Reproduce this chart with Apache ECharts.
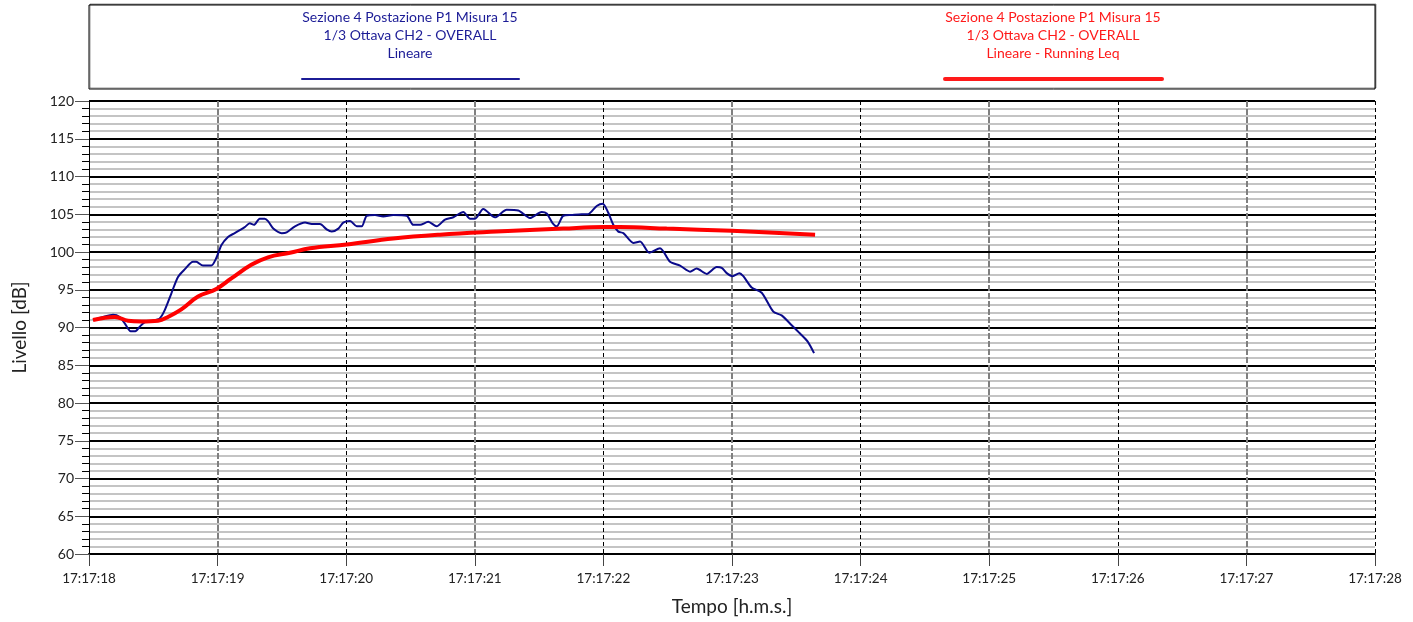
<!DOCTYPE html>
<html>
<head>
<meta charset="utf-8">
<script src="https://cdn.jsdelivr.net/npm/echarts@6/dist/echarts.min.js"></script>
<style>html,body{margin:0;padding:0;background:#fff;}#c{width:1413px;height:622px;}</style>
</head>
<body>
<div id="c"></div>
<script>
const timeTicks = ['17:17:18','17:17:19','17:17:20','17:17:21','17:17:22','17:17:23','17:17:24','17:17:25','17:17:26','17:17:27','17:17:28'];
const yTicks = [60, 65, 70, 75, 80, 85, 90, 95, 100, 105, 110, 115, 120];

const legendBlue = ['Sezione 4 Postazione P1 Misura 15', '1/3 Ottava CH2 - OVERALL', 'Lineare'];
const legendRed = ['Sezione 4 Postazione P1 Misura 15', '1/3 Ottava CH2 - OVERALL', 'Lineare - Running Leq'];

// seconds after 17:17:18
const blueTime = [0.031,0.109,0.187,0.239,0.278,0.324,0.360,0.394,0.433,0.498,0.550,0.589,0.640,0.692,0.744,0.809,0.834,0.886,0.951,0.990,1.029,1.081,1.133,1.211,1.250,1.283,1.327,1.366,1.392,1.433,1.498,1.537,1.602,1.680,1.732,1.796,1.848,1.887,1.939,1.977,2.030,2.082,2.121,2.159,2.224,2.288,2.366,2.470,2.522,2.574,2.638,2.703,2.768,2.833,2.911,2.963,3.002,3.066,3.157,3.248,3.338,3.429,3.520,3.559,3.606,3.637,3.688,3.754,3.831,3.880,3.948,3.995,4.038,4.077,4.116,4.155,4.233,4.285,4.357,4.440,4.518,4.596,4.674,4.725,4.803,4.881,4.920,4.959,5.005,5.057,5.088,5.153,5.231,5.321,5.386,5.464,5.529,5.590,5.638];
const blueLevel = [91.0,91.4,91.7,91.4,90.55,89.5,89.5,90.1,90.7,90.9,91.2,92.3,94.5,96.7,97.7,98.7,98.7,98.2,98.2,99.2,100.9,102.0,102.5,103.3,103.8,103.6,104.4,104.4,104.1,103.1,102.5,102.6,103.4,103.9,103.7,103.7,103.0,102.7,103.1,103.9,104.1,103.4,103.4,104.8,104.9,104.7,104.9,104.8,103.6,103.6,104.0,103.4,104.3,104.6,105.3,104.4,104.4,105.7,104.6,105.6,105.5,104.5,105.3,105.1,103.8,103.4,104.8,104.9,105.0,105.0,106.1,106.4,105.2,103.6,102.7,102.5,101.2,101.4,99.9,100.5,98.7,98.2,97.4,97.8,97.1,98.0,97.9,97.2,96.8,97.2,96.8,95.3,94.6,92.1,91.6,90.3,89.2,88.1,86.6];

const redTime = [0.031,0.200,0.303,0.407,0.537,0.614,0.718,0.848,0.990,1.107,1.262,1.392,1.563,1.718,2.004,2.366,2.729,3.170,3.688,4.000,4.129,4.492,4.998,5.646];
const redLevel = [91.0,91.4,90.9,90.8,90.9,91.4,92.4,94.1,95.1,96.5,98.3,99.3,99.9,100.5,101.0,101.8,102.3,102.7,103.1,103.3,103.3,103.1,102.8,102.3];

const blueData = blueTime.map((t, i) => [t, blueLevel[i]]);
const redData = redTime.map((t, i) => [t, redLevel[i]]);

const FONT = 'Lato';
const chart = echarts.init(document.getElementById('c'), null, {renderer: 'canvas'});

function legendGroup(lines, cx, color, lineW, x1, x2) {
  const els = lines.map((s, i) => ({
    type: 'text', z: 10,
    style: {text: s, x: cx, y: 17 + i * 18, fill: color, font: '14px ' + FONT, textAlign: 'center', textVerticalAlign: 'middle'}
  }));
  els.push({type: 'line', z: 10, shape: {x1: x1, y1: 79, x2: x2, y2: 79}, style: {stroke: color, lineWidth: lineW, lineCap: 'round'}});
  return els;
}

const option = {
  animation: false,
  backgroundColor: '#fff',
  grid: {left: 89, right: 38, top: 101, bottom: 68, containLabel: false},
  graphic: [
    {type: 'rect', shape: {x: 89, y: 5, width: 1286, height: 84}, style: {fill: '#fff', stroke: '#000', lineWidth: 1, shadowColor: 'rgba(0,0,0,0.4)', shadowBlur: 0, shadowOffsetX: 1, shadowOffsetY: -1}},
    ...legendGroup(legendBlue, 410, '#1c1c96', 2, 302, 519),
    ...legendGroup(legendRed, 1053, '#ff1a1a', 4, 945, 1162)
  ],
  xAxis: [
    {
      type: 'value', min: 0, max: 10, interval: 1,
      name: 'Tempo [h.m.s.]', nameLocation: 'middle', nameGap: 43,
      nameTextStyle: {fontFamily: FONT, fontSize: 19, color: '#222'},
      axisLine: {show: true, onZero: false, lineStyle: {color: '#000', width: 2}},
      axisTick: {show: true, inside: false, length: 12, lineStyle: {color: '#444', width: 1}},
      axisLabel: {fontFamily: FONT, fontSize: 13.5, color: '#222', margin: 18, formatter: v => timeTicks[Math.round(v)]},
      splitLine: {show: true, lineStyle: {color: ['#000', 'rgba(0,0,0,0)'], width: 1, type: [4, 3]}}
    },
    {
      type: 'value', min: 0, max: 10, interval: 1, position: 'bottom',
      axisLine: {show: false}, axisTick: {show: false}, axisLabel: {show: false},
      splitLine: {show: true, lineStyle: {color: ['rgba(0,0,0,0)', '#808080'], width: 2, type: [6, 2]}}
    }
  ],
  yAxis: {
    type: 'value', min: yTicks[0], max: yTicks[yTicks.length - 1], interval: 5,
    name: 'Livello [dB]', nameLocation: 'middle', nameGap: 60, nameRotate: 90,
    nameTextStyle: {fontFamily: FONT, fontSize: 19, color: '#222'},
    axisLine: {show: true, onZero: false, lineStyle: {color: '#000', width: 1}},
    axisTick: {show: true, length: 14, lineStyle: {color: '#555', width: 1}},
    minorTick: {show: true, splitNumber: 5, length: 7, lineStyle: {color: '#000', width: 1}},
    axisLabel: {fontFamily: FONT, fontSize: 14, color: '#222', margin: 15},
    splitLine: {show: true, lineStyle: {color: '#000', width: 2}},
    minorSplitLine: {show: true, lineStyle: {color: '#c4c4c4', width: 2}}
  },
  series: [
    {
      name: 'Lineare', type: 'line', data: blueData, showSymbol: false, smooth: 0.25,
      lineStyle: {color: '#0a0a8a', width: 2}, z: 5
    },
    {
      name: 'Lineare - Running Leq', type: 'line', data: redData, showSymbol: false, smooth: 0.4,
      lineStyle: {color: '#ff0000', width: 4}, z: 6
    }
  ]
};
chart.setOption(option);
</script>
</body>
</html>
